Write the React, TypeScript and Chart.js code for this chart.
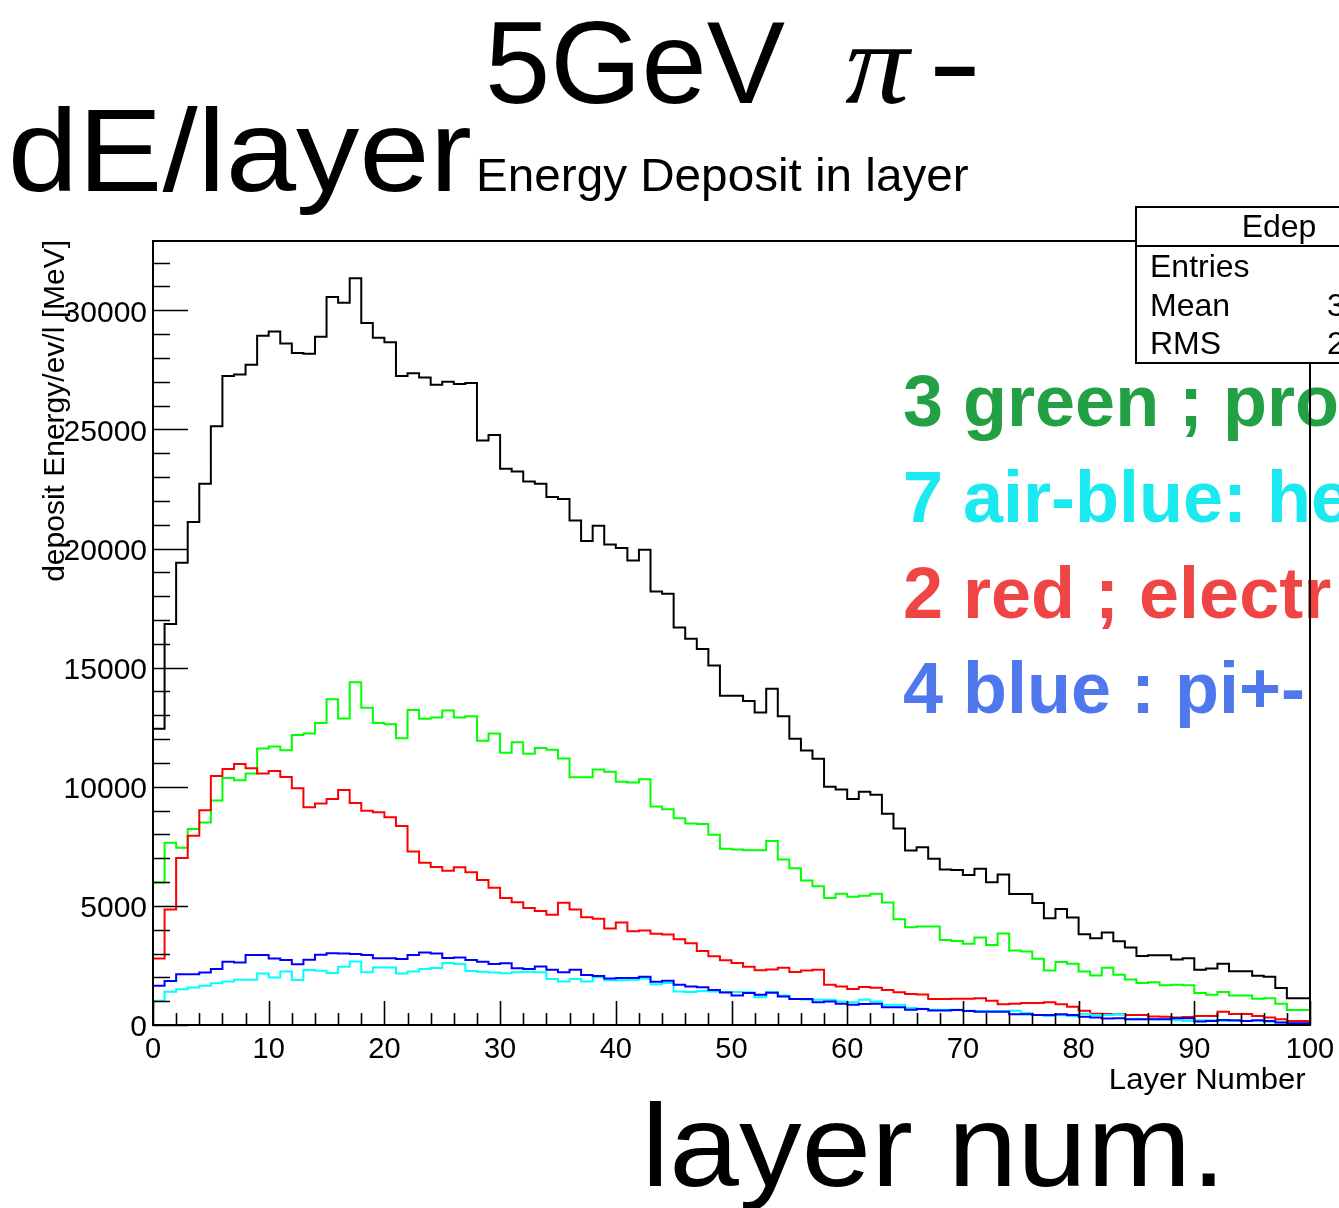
import React, { useEffect, useRef } from 'react';
import { Chart, registerables } from 'chart.js';

Chart.register(...registerables);

const W = 1339;
const H = 1208;
const SANS = '"Liberation Sans", Arial, Helvetica, sans-serif';

// layer index (bin lower edges 0..99)
const layers: number[] = Array.from({ length: 100 }, (_, i) => i);

const totalDeposit = [
  9130, 12430, 16830, 19400, 21110, 22720, 25130, 27240, 27300, 27710,
  28930, 29110, 28600, 28210, 28170, 28890, 30560, 30310, 31340, 29460,
  28850, 28660, 27240, 27360, 27180, 26870, 27000, 26900, 26950, 24530,
  24760, 23350, 23230, 22810, 22720, 22160, 22080, 21180, 20310, 20950,
  20170, 20020, 19500, 19950, 18200, 18100, 16680, 16210, 15780, 15090,
  13820, 13820, 13600, 13120, 14110, 12960, 12010, 11520, 11180, 10000,
  9880, 9490, 9790, 9660, 8870, 8250, 7320, 7460, 6980, 6530,
  6510, 6300, 6560, 5990, 6320, 5500, 5500, 5120, 4480, 4870,
  4510, 3810, 3640, 3880, 3520, 3250, 2900, 2930, 2930, 2750,
  2800, 2320, 2370, 2570, 2260, 2260, 2070, 2020, 1550, 1120,
];

const protonDeposit = [
  4740, 5980, 7650, 7440, 8230, 8500, 9420, 10370, 10270, 10560,
  11610, 11690, 11530, 12170, 12230, 12680, 13670, 12870, 14390, 13320,
  12680, 12620, 12040, 13220, 12850, 12910, 13200, 12910, 12960, 11930,
  12240, 11430, 11870, 11380, 11630, 11550, 11190, 10400, 10400, 10720,
  10630, 10210, 10180, 10310, 9170, 9060, 8680, 8460, 8440, 7990,
  7400, 7370, 7340, 7330, 7720, 6950, 6580, 6060, 5820, 5330,
  5510, 5380, 5420, 5510, 5140, 4440, 4100, 4130, 4130, 3570,
  3530, 3410, 3670, 3360, 3840, 3130, 3080, 2780, 2290, 2640,
  2570, 2250, 2080, 2400, 2110, 1910, 1760, 1790, 1670, 1690,
  1670, 1340, 1270, 1380, 1240, 1240, 1100, 1120, 890, 630,
];

const electronDeposit = [
  1290, 2790, 4850, 7010, 7940, 9010, 10450, 10740, 10950, 10780,
  10560, 10660, 10410, 9940, 9140, 9300, 9490, 9860, 9320, 8990,
  8930, 8720, 8350, 7280, 6810, 6630, 6470, 6620, 6410, 6090,
  5760, 5330, 5150, 4910, 4790, 4630, 5130, 4850, 4520, 4460,
  4050, 4300, 3930, 3970, 3830, 3800, 3600, 3430, 3110, 2890,
  2720, 2600, 2440, 2300, 2330, 2400, 2220, 2290, 2320, 1690,
  1620, 1510, 1590, 1560, 1470, 1370, 1300, 1280, 1090, 1090,
  1100, 1100, 1120, 1020, 870, 890, 920, 920, 950, 870,
  770, 600, 470, 460, 450, 420, 420, 360, 350, 310,
  340, 380, 380, 560, 460, 460, 380, 320, 240, 170,
];

const pionDeposit = [
  1400, 1650, 1850, 2130, 2130, 2200, 2350, 2650, 2620, 2940,
  2940, 2790, 2730, 2550, 2740, 2950, 3010, 3000, 2980, 2940,
  2800, 2800, 2770, 2940, 3040, 3000, 2810, 2830, 2730, 2650,
  2560, 2590, 2380, 2350, 2460, 2320, 2210, 2320, 2100, 2060,
  1950, 1970, 1970, 2030, 1820, 1860, 1690, 1620, 1580, 1470,
  1360, 1240, 1340, 1270, 1350, 1200, 1090, 1090, 960, 990,
  890, 850, 880, 890, 740, 750, 640, 670, 610, 610,
  630, 590, 560, 560, 560, 450, 450, 420, 420, 450,
  420, 350, 310, 270, 280, 240, 240, 240, 240, 280,
  280, 150, 170, 210, 200, 170, 200, 170, 100, 70,
];

const heavyDeposit = [
  900, 1020, 1400, 1500, 1570, 1650, 1750, 1830, 1900, 1900,
  2160, 1990, 2250, 1890, 2310, 2280, 2180, 2440, 2670, 2210,
  2410, 2410, 2160, 2250, 2350, 2390, 2600, 2560, 2270, 2230,
  2200, 2170, 2210, 2240, 2210, 1930, 1830, 1930, 1830, 2000,
  1880, 1880, 1900, 1950, 1710, 1760, 1410, 1390, 1430, 1410,
  1380, 1390, 1370, 1160, 1390, 1240, 1090, 1070, 1060, 1060,
  990, 960, 1060, 990, 850, 850, 710, 680, 640, 640,
  640, 600, 590, 590, 590, 600, 500, 420, 380, 420,
  380, 470, 420, 420, 450, 240, 240, 240, 240, 200,
  170, 200, 200, 170, 170, 170, 170, 140, 100, 70,
];

const xMin = 0;
const xMax = 100;
const yMin = 0;
const yMax = 32907;
const xMajorStep = 10;
const xMinorStep = 2;
const yMajorStep = 5000;
const yMinorStep = 1000;
const yTickLabels = ['0', '5000', '10000', '15000', '20000', '25000', '30000'];

const mainTitle = '5GeV';
const piSymbol = 'π';
const chargeSign = '-';
const sideTitle = 'dE/layer';
const histTitle = 'Energy Deposit in layer';
const xAxisTitle = 'Layer Number';
const yAxisTitle = 'deposit Energy/ev/l [MeV]';
const bottomNote = 'layer num.';
const statsName = 'Edep';
const statsRows = ['Entries', 'Mean', 'RMS'];
const statsValues = ['', '3', '2'];
const notes = ['3 green ; pro', '7 air-blue: he', '2 red ; electr', '4 blue : pi+-'];
const noteColors = ['#22a043', '#1aeaf0', '#f04545', '#4f78ee'];

function toSteps(values: number[]) {
  const pts = layers.map((l, i) => ({ x: l, y: values[i] }));
  pts.push({ x: xMax, y: values[values.length - 1] });
  return pts;
}

// draw text so that its ink spans exactly [x0, x1] horizontally
function fitText(ctx: CanvasRenderingContext2D, text: string, x0: number, x1: number, baseline: number, font: string) {
  ctx.save();
  ctx.font = font;
  ctx.textAlign = 'left';
  ctx.textBaseline = 'alphabetic';
  const m = ctx.measureText(text);
  const inkL = -m.actualBoundingBoxLeft;
  const inkR = m.actualBoundingBoxRight;
  const sx = (x1 - x0) / Math.max(1, inkR - inkL);
  ctx.translate(x0, baseline);
  ctx.scale(sx, 1);
  ctx.fillText(text, -inkL, 0);
  ctx.restore();
}

const decorPlugin = {
  id: 'rootDecor',
  beforeDraw(chart: any) {
    const ctx = chart.ctx;
    ctx.save();
    ctx.fillStyle = '#ffffff';
    ctx.fillRect(0, 0, chart.width, chart.height);
    ctx.restore();
  },
  afterDatasetsDraw(chart: any) {
    const ctx = chart.ctx;
    const { left, right, top, bottom } = chart.chartArea;
    const xs = chart.scales.x;
    const ys = chart.scales.y;
    ctx.save();
    ctx.strokeStyle = '#000';
    ctx.lineWidth = 2;
    ctx.strokeRect(left, top, right - left, bottom - top);
    ctx.lineWidth = 1.6;
    ctx.beginPath();
    for (let v = xMin; v <= xMax + 1e-9; v += xMinorStep) {
      const px = Math.round(xs.getPixelForValue(v)) + 0.5;
      const len = v % xMajorStep === 0 ? 24 : 12;
      ctx.moveTo(px, bottom);
      ctx.lineTo(px, bottom - len);
    }
    for (let v = yMin; v <= yMax; v += yMinorStep) {
      const py = Math.round(ys.getPixelForValue(v)) + 0.5;
      const len = v % yMajorStep === 0 ? 35 : 17;
      ctx.moveTo(left, py);
      ctx.lineTo(left + len, py);
    }
    ctx.stroke();

    // y tick labels
    ctx.fillStyle = '#000';
    ctx.font = `30px ${SANS}`;
    ctx.textAlign = 'right';
    ctx.textBaseline = 'middle';
    yTickLabels.forEach((lab) => {
      const py = ys.getPixelForValue(Number(lab));
      ctx.fillText(lab, left - 6, py + 3);
    });
    ctx.restore();
  },
  afterDraw(chart: any) {
    const ctx = chart.ctx;
    const { right, bottom } = chart.chartArea;
    ctx.save();
    ctx.fillStyle = '#000';

    // axis titles
    fitText(ctx, xAxisTitle, 1111, 1306, 1089, `29px ${SANS}`);
    ctx.save();
    ctx.translate(64, 240);
    ctx.rotate(-Math.PI / 2);
    ctx.font = `30px ${SANS}`;
    ctx.textAlign = 'right';
    ctx.textBaseline = 'alphabetic';
    ctx.fillText(yAxisTitle, 0, 0, 352);
    ctx.restore();

    // titles
    fitText(ctx, sideTitle, 12, 470, 191, `116px ${SANS}`);
    fitText(ctx, histTitle, 479, 968, 191, `47px ${SANS}`);
    fitText(ctx, mainTitle, 489, 785, 103, `117px ${SANS}`);
    fitText(ctx, piSymbol, 845, 913, 103, `italic 117px "Liberation Serif", "DejaVu Serif", serif`);
    fitText(ctx, chargeSign, 935, 975, 103, `117px ${SANS}`);
    fitText(ctx, bottomNote, 649, 1215, 1186, `116px ${SANS}`);

    // stats box
    const bx = 1136, by = 207, bw = 286, bh = 156;
    ctx.fillStyle = '#fff';
    ctx.fillRect(bx, by, bw, bh);
    ctx.strokeStyle = '#000';
    ctx.lineWidth = 2;
    ctx.strokeRect(bx, by, bw, bh);
    ctx.beginPath();
    ctx.moveTo(bx, 246);
    ctx.lineTo(bx + bw, 246);
    ctx.stroke();
    ctx.fillStyle = '#000';
    ctx.font = `32px ${SANS}`;
    ctx.textBaseline = 'alphabetic';
    ctx.textAlign = 'center';
    ctx.fillText(statsName, 1279, 237);
    ctx.textAlign = 'left';
    const rowY = [277, 316, 354];
    statsRows.forEach((r, i) => {
      ctx.fillText(r, 1150, rowY[i]);
      if (statsValues[i]) ctx.fillText(statsValues[i], 1327, rowY[i]);
    });

    // colored notes
    ctx.font = `bold 72px ${SANS}`;
    const noteY = [426, 522, 618, 713];
    notes.forEach((n, i) => {
      ctx.fillStyle = noteColors[i];
      ctx.fillText(n, 903, noteY[i]);
    });

    // right frame line over the notes
    ctx.strokeStyle = '#000';
    ctx.lineWidth = 2;
    ctx.beginPath();
    ctx.moveTo(right, by + bh);
    ctx.lineTo(right, bottom);
    ctx.stroke();
    ctx.restore();
  },
};

export default function App() {
  const ref = useRef<HTMLCanvasElement | null>(null);
  useEffect(() => {
    if (!ref.current) return;
    const mk = (label: string, values: number[], color: string) => ({
      label,
      data: toSteps(values),
      borderColor: color,
      backgroundColor: color,
      borderWidth: 2,
      stepped: 'after' as const,
      pointRadius: 0,
      fill: false,
    });
    const chart = new Chart(ref.current, {
      type: 'line',
      data: {
        datasets: [
          mk('total', totalDeposit, '#000000'),
          mk('pi+-', pionDeposit, '#0000ff'),
          mk('heavy', heavyDeposit, '#00ffff'),
          mk('electron', electronDeposit, '#ff0000'),
          mk('proton', protonDeposit, '#00ff00'),
        ],
      },
      options: {
        animation: false,
        responsive: false,
        maintainAspectRatio: false,
        layout: { padding: { top: 241, right: 29, left: 0, bottom: 0 } },
        plugins: {
          legend: { display: false },
          tooltip: { enabled: false },
          title: { display: false },
        },
        elements: { point: { radius: 0 }, line: { tension: 0 } },
        scales: {
          x: {
            type: 'linear',
            min: xMin,
            max: xMax,
            grid: { display: false },
            border: { display: false },
            ticks: {
              stepSize: xMajorStep,
              padding: 0,
              color: '#000',
              font: { family: SANS, size: 29 },
              maxRotation: 0,
              autoSkip: false,
              callback: (v: any) => String(v),
            },
            afterFit: (s: any) => {
              s.height = H - 1025;
            },
          },
          y: {
            type: 'linear',
            min: yMin,
            max: yMax,
            grid: { display: false },
            border: { display: false },
            ticks: { display: false },
            afterFit: (s: any) => {
              s.width = 153;
            },
          },
        },
      } as any,
      plugins: [decorPlugin],
    });
    return () => chart.destroy();
  }, []);
  return (
    <div style={{ position: 'absolute', left: 0, top: 0, width: W, height: H }}>
      <canvas ref={ref} width={W} height={H} style={{ display: 'block', width: W, height: H }} />
    </div>
  );
}
